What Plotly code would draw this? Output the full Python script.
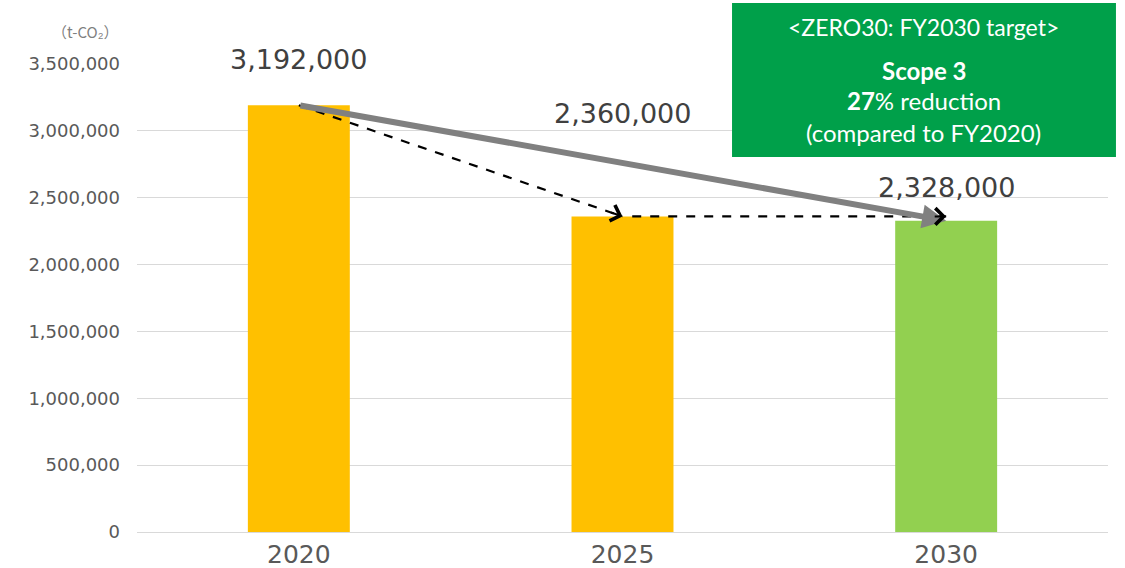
import plotly.graph_objects as go

# ---- data ----
years = ["2020", "2025", "2030"]
emissions = [3192000, 2360000, 2328000]
value_labels = ["3,192,000", "2,360,000", "2,328,000"]
bar_colors = ["#FFC000", "#FFC000", "#92D050"]
y_ticks = [0, 500000, 1000000, 1500000, 2000000, 2500000, 3000000, 3500000]
y_tick_text = ["0", "500,000", "1,000,000", "1,500,000", "2,000,000",
               "2,500,000", "3,000,000", "3,500,000"]
unit_label = "（t-CO₂）"
box_lines = ["&lt;ZERO30: FY2030 target&gt;", "<b>Scope 3</b>",
             "<b>27</b>% reduction", "(compared to FY2020)"]

# ---- style / layout (not data) ----
label_shift_px = [46, 103, 33]
xs = list(range(len(years)))
NUMFONT = "DejaVu Sans, sans-serif"
BOXFONT = "Lato, Open Sans, sans-serif"

fig = go.Figure()
fig.add_trace(go.Bar(x=xs, y=emissions, marker_color=bar_colors,
                     width=0.315, marker_line_width=0, showlegend=False,
                     hoverinfo="skip"))

# dashed path 2020 -> 2025 -> 2030
dash_x = [xs[0], xs[1], None, xs[1] + 0.03, xs[2]]
dash_y = [emissions[0], emissions[1], None, emissions[1], emissions[1]]
fig.add_trace(go.Scatter(x=dash_x, y=dash_y, mode="lines",
                         line=dict(color="black", width=2.2, dash="dash"),
                         showlegend=False, hoverinfo="skip", cliponaxis=False))

annotations = []
# gray solid arrow 2020 -> 2030
annotations.append(dict(x=xs[2], y=emissions[2], ax=xs[0], ay=emissions[0],
                        xref="x", yref="y", axref="x", ayref="y",
                        showarrow=True, arrowhead=2, arrowsize=0.8,
                        arrowwidth=6, arrowcolor="#808080", text=""))


def head(x0, y0, x1, y1):
    f = 0.96
    return dict(x=x1, y=y1, ax=x0 + f * (x1 - x0), ay=y0 + f * (y1 - y0),
                xref="x", yref="y", axref="x", ayref="y", text="",
                showarrow=True, arrowhead=4, arrowsize=1.6, arrowwidth=2,
                arrowcolor="black")


annotations.append(head(xs[0], emissions[0], xs[1], emissions[1]))
annotations.append(head(xs[1], emissions[1], xs[2], emissions[1]))

# value labels
for i, (v, t) in enumerate(zip(emissions, value_labels)):
    annotations.append(dict(x=xs[i], y=v, text=t, showarrow=False,
                            xref="x", yref="y", yshift=label_shift_px[i],
                            xanchor="center", yanchor="middle",
                            font=dict(family=NUMFONT, size=27, color="#404040")))

# unit label
annotations.append(dict(x=-0.0536, y=1.07, xref="paper", yref="paper",
                        text=unit_label, showarrow=False,
                        xanchor="center", yanchor="middle",
                        font=dict(family="Noto Sans CJK JP, sans-serif",
                                  size=15, color="#7f7f7f")))

# green box text
box_y = [1.08, 0.986, 0.922, 0.853]
box_size = [23, 24, 24, 24]
for j, line in enumerate(box_lines):
    annotations.append(dict(x=0.8105, y=box_y[j], xref="paper", yref="paper",
                            text=line, showarrow=False,
                            xanchor="center", yanchor="middle",
                            font=dict(family=BOXFONT, size=box_size[j],
                                      color="white")))

fig.add_shape(type="rect", xref="paper", yref="paper",
              x0=0.6128, x1=1.0082, y0=0.8013, y1=1.1303,
              fillcolor="#00A04A", line_width=0, layer="above")

fig.update_layout(
    width=1125, height=568,
    margin=dict(l=137, r=17, t=64, b=36),
    paper_bgcolor="white", plot_bgcolor="white",
    annotations=annotations,
    xaxis=dict(tickvals=xs, ticktext=years, range=[-0.5, 2.5],
               showgrid=False, zeroline=False, showline=False,
               automargin=False,
               tickfont=dict(family=NUMFONT, size=25, color="#595959"),
               ticklabelstandoff=5),
    yaxis=dict(range=[0, 3500000], tickvals=y_ticks, ticktext=y_tick_text,
               showgrid=True, gridcolor="#d9d9d9", gridwidth=1.3,
               zeroline=True, zerolinecolor="#d9d9d9", zerolinewidth=1.3,
               showline=False, automargin=False,
               tickfont=dict(family=NUMFONT, size=18, color="#595959"),
               ticklabelstandoff=16),
)

fig.write_html("out.html",
               config={"displayModeBar": False},
               post_script="document.body.style.margin='0';"
                           "document.body.style.overflow='hidden';")
